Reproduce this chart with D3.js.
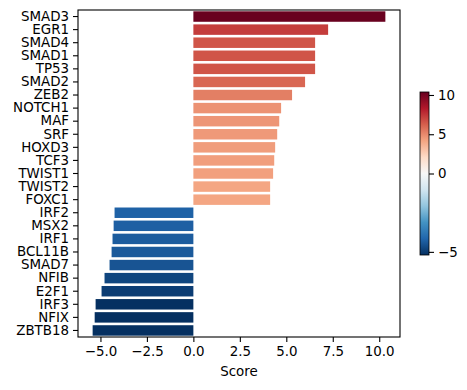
<!DOCTYPE html>
<html>
<head>
<meta charset="utf-8">
<script src="https://cdn.jsdelivr.net/npm/d3@7"></script>
<style>
  body { margin: 0; background: #fff; }
  svg text { font-family: "DejaVu Sans", sans-serif; fill: #000; }
</style>
</head>
<body>
<script>
// data
const genes = ["SMAD3", "EGR1", "SMAD4", "SMAD1", "TP53", "SMAD2", "ZEB2", "NOTCH1", "MAF", "SRF",
    "HOXD3", "TCF3", "TWIST1", "TWIST2", "FOXC1", "IRF2", "MSX2", "IRF1", "BCL11B", "SMAD7",
    "NFIB", "E2F1", "IRF3", "NFIX", "ZBTB18"]
const scores = [10.33, 7.25, 6.55, 6.55, 6.55, 6.01, 5.31, 4.72, 4.62, 4.51,
    4.40, 4.35, 4.29, 4.13, 4.13, -4.24, -4.29, -4.35, -4.40, -4.51,
    -4.78, -4.94, -5.26, -5.31, -5.42]
const xTicks = [-5, -2.5, 0, 2.5, 5, 7.5, 10]
const cbarTicks = [10, 5, 0, -5]
// colour norm limits (two slopes around 0)
const normMin = -5.2, normMax = 10.38

// RdBu_r (matplotlib, linear segments)
const rdbuR = ["#053061", "#2166ac", "#4393c3", "#92c5de", "#d1e5f0", "#f7f7f7",
    "#fddbc7", "#f4a582", "#d6604d", "#b2182b", "#67001f"]

var W = 467, H = 390;
var margin = { top: 10, left: 78 },
    width = 322,
    height = 327;

var svg = d3.select("body").append("svg")
    .attr("width", W)
    .attr("height", H);

var g = svg.append("g")
    .attr("transform", "translate(" + margin.left + "," + margin.top + ")");

var lo = Math.min(0, d3.min(scores)), hi = Math.max(0, d3.max(scores));
var pad = (hi - lo) * 0.05;

var x = d3.scaleLinear().domain([lo - pad, hi + pad]).range([0, width]);
var y = d3.scaleBand().domain(genes).range([0, height]).paddingInner(0.2).paddingOuter(0.1);

var norm = d3.scaleLinear().domain([normMin, 0, normMax]).range([0, 0.5, 1]).clamp(true);
var cmap = d3.scaleLinear().domain(d3.range(11).map(i => i / 10)).range(rdbuR);
var color = v => cmap(norm(v));

g.selectAll("rect.bar")
    .data(genes)
    .enter()
    .append("rect")
    .attr("class", "bar")
    .attr("x", (d, i) => x(Math.min(0, scores[i])))
    .attr("y", d => y(d))
    .attr("width", (d, i) => Math.abs(x(scores[i]) - x(0)))
    .attr("height", y.bandwidth())
    .attr("fill", (d, i) => color(scores[i]));

var xAxis = d3.axisBottom(x)
    .tickValues(xTicks)
    .tickFormat(d => d3.format(".1f")(d).replace("-", "\u2212"))
    .tickSizeInner(5).tickSizeOuter(0).tickPadding(4);

var yAxis = d3.axisLeft(y).tickSizeInner(5).tickSizeOuter(0).tickPadding(4);

g.append("g")
    .attr("transform", "translate(0," + height + ")")
    .call(xAxis);

g.append("g")
    .call(yAxis);

g.selectAll(".tick text").style("font-size", "13.4px").style("font-family", "DejaVu Sans");
g.selectAll(".domain").remove();
g.selectAll(".tick line").attr("stroke", "#000").attr("stroke-width", 1.1);

// frame
g.append("rect")
    .attr("width", width)
    .attr("height", height)
    .attr("fill", "none")
    .attr("stroke", "#000")
    .attr("stroke-width", 1.1);

g.append("text")
    .attr("text-anchor", "middle")
    .attr("x", width / 2)
    .attr("y", height + 39)
    .style("font-size", "13.4px")
    .text("Score");

// colorbar
var cb = { x: 420, y: 92, w: 9, h: 163 };
var cbScale = d3.scaleLinear().domain([normMin, 0, normMax]).range([cb.y + cb.h, cb.y + cb.h / 2, cb.y]);

var grad = svg.append("defs").append("linearGradient")
    .attr("id", "cbgrad")
    .attr("x1", 0).attr("y1", 1).attr("x2", 0).attr("y2", 0);
grad.selectAll("stop")
    .data(rdbuR)
    .enter()
    .append("stop")
    .attr("offset", (d, i) => (i / 10 * 100) + "%")
    .attr("stop-color", d => d);

svg.append("rect")
    .attr("x", cb.x).attr("y", cb.y)
    .attr("width", cb.w).attr("height", cb.h)
    .attr("fill", "url(#cbgrad)")
    .attr("stroke", "#000")
    .attr("stroke-width", 0.8);

var cbAxis = d3.axisRight(cbScale)
    .tickValues(cbarTicks)
    .tickFormat(d => String(d).replace("-", "\u2212"))
    .tickSizeInner(5).tickSizeOuter(0).tickPadding(4);

var cbg = svg.append("g")
    .attr("transform", "translate(" + (cb.x + cb.w) + ",0)")
    .call(cbAxis);
cbg.select(".domain").remove();
cbg.selectAll(".tick line").attr("stroke", "#000").attr("stroke-width", 1.1);
cbg.selectAll(".tick text").style("font-size", "13.4px").style("font-family", "DejaVu Sans");
</script>
</body>
</html>
